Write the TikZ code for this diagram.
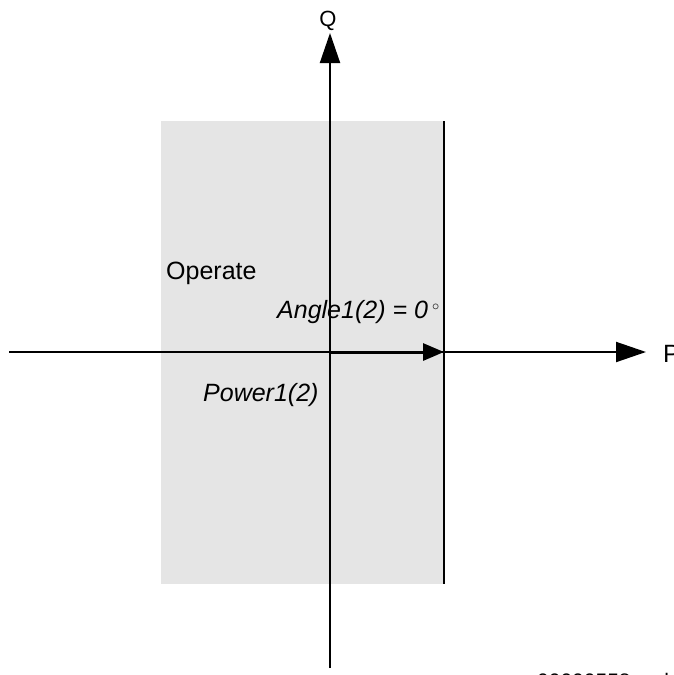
\documentclass[tikz,border=0pt]{standalone}
\usepackage{fontspec}
\setmainfont{Liberation Sans}
\usetikzlibrary{arrows.meta}
\begin{document}
\begin{tikzpicture}[x=1pt,y=-1pt,
  axis/.style={line width=2pt,-{Triangle[length=30pt,width=20pt]}},
  lbl/.style={inner sep=0pt,anchor=base west,font=\fontsize{25}{30}\selectfont},
  ilbl/.style={inner sep=0pt,anchor=base west,font=\fontsize{25}{30}\selectfont\itshape}]
\useasboundingbox (0,0) rectangle (673,675);
\clip (0,0) rectangle (673,675);
\fill[black!10] (161,121) rectangle (444,584);
\coordinate (xs) at (9,352);
\coordinate (xe) at (646,352);
\coordinate (ys) at (330,668);
\coordinate (ye) at (330,33);
\coordinate (o) at (330,352);
\coordinate (pw) at (444,352);
\coordinate (lt) at (444,121);
\coordinate (lb) at (444,584);
\draw[axis] (xs) -- (xe);
\draw[axis] (ys) -- (ye);
\draw[line width=2pt] (lt) -- (lb);
\draw[line width=3pt,-{Triangle[length=21pt,width=17pt]}] (o) -- (pw);
\node[inner sep=0pt,anchor=base,font=\fontsize{22}{26}\selectfont] (q) at (328,26) {Q};
\node[lbl] (p) at (663,362) {P};
\node[lbl] (op) at (166,279) {Operate};
\node[ilbl] (ang) at (277,318) {Angle1(2) = 0\,\raisebox{0.55ex}{\fontsize{14}{14}\selectfont$\circ$}};
\node[ilbl] (pow) at (203,401) {Power1(2)};
\node[inner sep=0pt,anchor=base west,font=\fontsize{21}{24}\selectfont] (fn) at (537,688) {00000558.vsd};
\end{tikzpicture}
\end{document}
